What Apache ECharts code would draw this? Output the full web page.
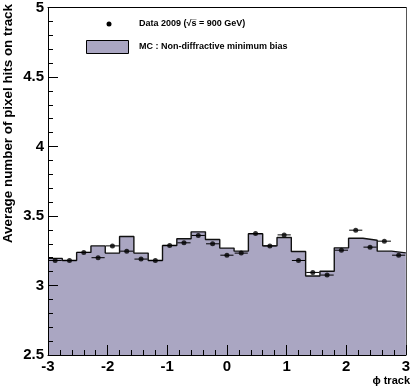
<!DOCTYPE html>
<html><head><meta charset="utf-8">
<script src="https://cdn.jsdelivr.net/npm/echarts@6/dist/echarts.min.js"></script>
<style>html,body{margin:0;padding:0;background:#fff}#c{width:413px;height:392px}</style>
</head><body><div id="c"></div>
<script>
// Histogram binning (phi track)
const binLow = -3, binHigh = 3, nBins = 25;
// MC: Non-diffractive minimum bias (bin contents)
const mcValues = [3.195, 3.18, 3.238, 3.285, 3.233, 3.353, 3.233, 3.18, 3.288, 3.336, 3.386, 3.331, 3.269,
                  3.247, 3.372, 3.285, 3.345, 3.245, 3.068, 3.103, 3.271, 3.34, 3.326, 3.247, 3.235];
// Data 2009 (bin contents)
const dataValues = [3.18, 3.18, 3.238, 3.20, 3.285, 3.247, 3.19, 3.18, 3.288, 3.307, 3.36, 3.30, 3.218,
                    3.233, 3.374, 3.285, 3.364, 3.18, 3.094, 3.075, 3.254, 3.398, 3.276, 3.319, 3.218];
const xTickValues = [-3, -2, -1, 0, 1, 2, 3];
const yTickValues = [2.5, 3, 3.5, 4, 4.5, 5];
const xTitle = 'ϕ track';
const yTitle = 'Average number of pixel hits on track';
const legendData = 'Data 2009 (√s\u0305 = 900 GeV)';
const legendMC = 'MC : Non-diffractive minimum bias';

const binW = (binHigh - binLow) / nBins;
const edges = Array.from({length: nBins + 1}, (_, i) => binLow + i * binW);
const mcStep = edges.map((e, i) => [e, mcValues[Math.min(i, nBins - 1)]]);
const dataPts = dataValues.map((v, i) => [binLow + (i + 0.5) * binW, v]);
const errX = binW * 0.46;

const FONT = 'Liberation Sans, Arial, Helvetica, sans-serif';
const FILL = '#aaa6c2';

const chart = echarts.init(document.getElementById('c'), null, {renderer: 'canvas'});
chart.setOption({
  animation: false,
  backgroundColor: '#fff',
  grid: {left: 48, right: 3, top: 7, bottom: 37, show: false},
  xAxis: [{
    type: 'value', min: xTickValues[0], max: xTickValues[xTickValues.length - 1], interval: 1, z: 10,
    axisLine: {show: true, onZero: false, lineStyle: {color: '#000', width: 1}},
    axisTick: {show: true, inside: true, length: 10, lineStyle: {color: '#000'}},
    minorTick: {show: true, splitNumber: 5, length: 5, lineStyle: {color: '#000'}},
    splitLine: {show: false},
    axisLabel: {margin: 4, color: '#000', fontFamily: FONT, fontWeight: 'bold', fontSize: 15,
      formatter: v => String(v)}
  }, {
    type: 'value', position: 'top', min: binLow, max: binHigh, z: 10,
    axisLine: {show: true, onZero: false, lineStyle: {color: '#000', width: 1}},
    axisTick: {show: false}, axisLabel: {show: false}, splitLine: {show: false}
  }],
  yAxis: [{
    type: 'value', min: yTickValues[0], max: yTickValues[yTickValues.length - 1], interval: 0.5, z: 10,
    axisLine: {show: true, onZero: false, lineStyle: {color: '#000', width: 1}},
    axisTick: {show: true, inside: true, length: 10, lineStyle: {color: '#000'}},
    minorTick: {show: true, splitNumber: 5, length: 5, lineStyle: {color: '#000'}},
    splitLine: {show: false},
    axisLabel: {margin: 4, color: '#000', fontFamily: FONT, fontWeight: 'bold', fontSize: 15,
      formatter: v => String(v)}
  }, {
    type: 'value', position: 'right', min: 2.5, max: 5, z: 10,
    axisLine: {show: true, onZero: false, lineStyle: {color: '#555', width: 1}},
    axisTick: {show: false}, axisLabel: {show: false}, splitLine: {show: false}
  }],
  series: [{
    type: 'line', name: 'MC', data: mcStep, step: 'end', symbol: 'none', z: 2,
    lineStyle: {color: '#111', width: 1.4},
    areaStyle: {color: FILL, opacity: 1, origin: 'start'}
  }, {
    type: 'custom', name: 'errX', data: dataPts, z: 4,
    renderItem: (params, api) => {
      const x = api.value(0), y = api.value(1);
      const p1 = api.coord([x - errX, y]), p2 = api.coord([x + errX, y]);
      return {type: 'line', shape: {x1: p1[0], y1: p1[1], x2: p2[0], y2: p2[1]},
        style: {stroke: '#000', lineWidth: 1}};
    }
  }, {
    type: 'scatter', name: 'Data', data: dataPts, symbol: 'circle', symbolSize: 5, z: 5,
    itemStyle: {color: '#000'}
  }],
  graphic: [
    {type: 'text', x: 8, y: 4, rotation: Math.PI / 2,
      style: {text: yTitle, align: 'right', verticalAlign: 'middle', fill: '#000',
        font: 'bold 13.4px ' + FONT}},
    {type: 'text', x: 410, y: 381,
      style: {text: xTitle, align: 'right', verticalAlign: 'middle', fill: '#000',
        font: 'bold 11px ' + FONT}},
    {type: 'circle', shape: {cx: 109, cy: 24, r: 2.5}, style: {fill: '#000'}},
    {type: 'text', x: 139, y: 24,
      style: {text: legendData, align: 'left', verticalAlign: 'middle', fill: '#000',
        font: 'bold 9px ' + FONT}},
    {type: 'rect', shape: {x: 86.5, y: 40.5, width: 42, height: 13},
      style: {fill: FILL, stroke: '#000', lineWidth: 1}},
    {type: 'text', x: 139, y: 47,
      style: {text: legendMC, align: 'left', verticalAlign: 'middle', fill: '#000',
        font: 'bold 9px ' + FONT}}
  ]
});
</script></body></html>
